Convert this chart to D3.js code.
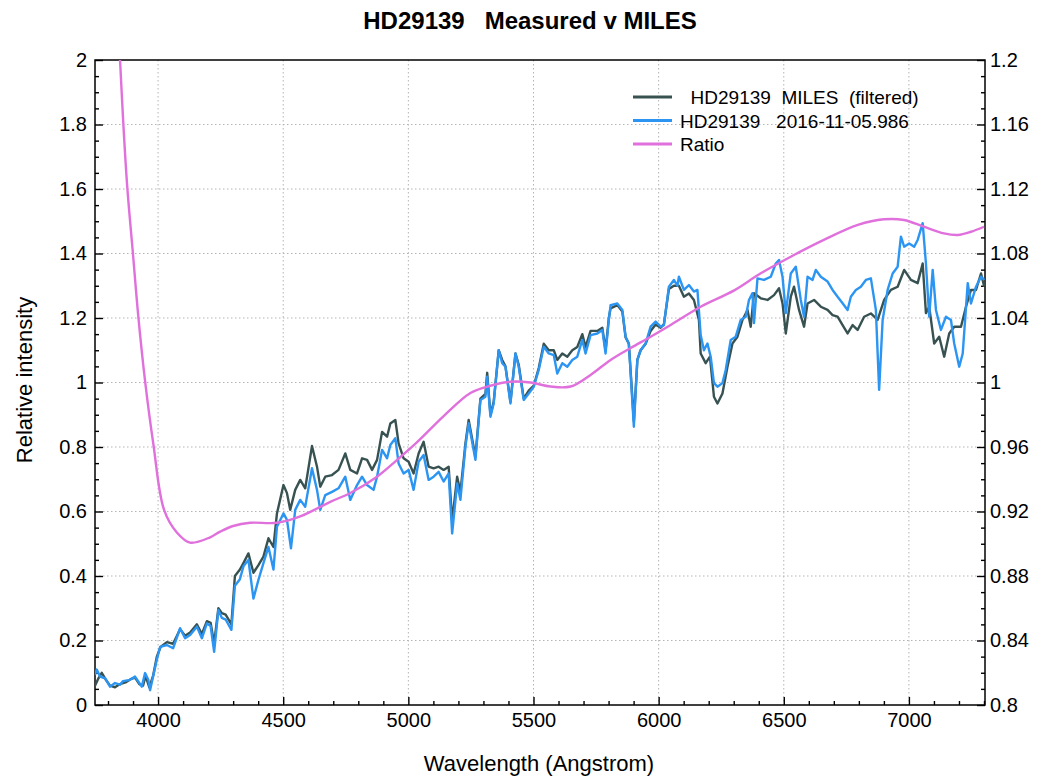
<!DOCTYPE html>
<html lang="en">
<head>
<meta charset="UTF-8">
<title>HD29139 Measured v MILES</title>
<script src="https://d3js.org/d3.v7.min.js"></script>
<style>
  body { margin: 0; background: #fff; }
  text { font-family: "Liberation Sans", Arial, sans-serif; fill: #000; }
  .grid line { stroke: #b4b4b4; stroke-dasharray: 1.5,2.5; }
</style>
</head>
<body>
<div id="chart"></div>
<script>
// tick values
var xTicks = [4000, 4500, 5000, 5500, 6000, 6500, 7000];
var yTicks = [0, 0.2, 0.4, 0.6, 0.8, 1, 1.2, 1.4, 1.6, 1.8, 2];
var ratioTicks = [0.8, 0.84, 0.88, 0.92, 0.96, 1, 1.04, 1.08, 1.12, 1.16, 1.2];

// MILES reference spectrum (filtered)
var milesWl = [3748,3760,3775,3790,3808,3828,3848,3870,3890,3908,3925,3940,3950,3965,3980,3995,4010,4035,4060,4088,
  4108,4128,4155,4175,4195,4210,4224,4241,4255,4270,4293,4307,4327,4341,4361,4381,4401,4421,4441,4461,
  4475,4501,4515,4528,4548,4568,4588,4615,4635,4648,4668,4695,4721,4748,4768,4795,4815,4835,4855,4875,
  4895,4915,4928,4948,4961,4981,5001,5021,5041,5061,5081,5101,5121,5141,5161,5175,5195,5208,5228,5241,
  5268,5288,5308,5315,5328,5341,5361,5375,5388,5408,5428,5441,5461,5481,5501,5521,5541,5561,5581,5595,
  5615,5635,5655,5675,5695,5708,5728,5755,5775,5788,5801,5808,5835,5855,5868,5881,5901,5915,5928,5948,
  5968,5988,6008,6021,6041,6061,6081,6101,6121,6141,6161,6168,6188,6205,6221,6235,6255,6275,6295,6315,
  6335,6355,6368,6381,6408,6435,6461,6481,6495,6508,6528,6541,6561,6581,6595,6621,6648,6675,6695,6715,
  6735,6755,6775,6795,6821,6848,6875,6901,6928,6955,6981,7008,7035,7055,7068,7081,7101,7121,7141,7161,
  7181,7208,7228,7248,7268,7288,7301];
var milesFlux = [0.06,0.08,0.1,0.08,0.06,0.055,0.065,0.07,0.08,0.085,0.065,0.06,0.09,0.055,0.09,0.15,0.18,0.195,0.19,0.235,
  0.215,0.225,0.25,0.22,0.26,0.255,0.19,0.3,0.285,0.28,0.25,0.4,0.42,0.44,0.47,0.41,0.434,0.46,0.517,0.49,
  0.594,0.682,0.657,0.605,0.667,0.698,0.672,0.803,0.739,0.677,0.708,0.713,0.729,0.78,0.729,0.718,0.765,0.76,0.729,0.76,
  0.847,0.832,0.873,0.884,0.811,0.765,0.754,0.718,0.78,0.816,0.739,0.734,0.739,0.729,0.739,0.57,0.708,0.66,0.81,0.884,
  0.77,0.95,0.965,1.03,0.9,0.94,1.1,1.07,1.05,0.94,1.09,1.055,0.95,0.975,0.99,1.045,1.12,1.1,1.1,1.07,
  1.09,1.08,1.1,1.11,1.15,1.11,1.16,1.16,1.17,1.1,1.2,1.23,1.24,1.22,1.14,1.12,0.88,1.07,1.1,1.12,
  1.16,1.18,1.17,1.18,1.29,1.3,1.3,1.266,1.276,1.256,1.194,1.09,1.06,1.08,0.956,0.935,0.966,1.049,1.121,1.142,
  1.194,1.225,1.173,1.277,1.261,1.256,1.271,1.292,1.245,1.152,1.266,1.297,1.225,1.173,1.245,1.256,1.235,1.225,1.209,1.204,
  1.178,1.152,1.178,1.163,1.204,1.214,1.194,1.256,1.287,1.297,1.349,1.318,1.308,1.369,1.215,1.235,1.121,1.142,1.08,1.152,
  1.173,1.173,1.235,1.287,1.287,1.338,1.297];

// measured spectrum 2016-11-05.986
var measWl = [3748,3755,3768,3788,3808,3828,3848,3860,3888,3908,3921,3935,3948,3961,3968,3980,3995,4008,4035,4060,
  4088,4108,4128,4155,4175,4195,4210,4224,4241,4255,4270,4293,4307,4327,4341,4361,4381,4401,4421,4441,
  4461,4475,4501,4515,4531,4548,4568,4588,4615,4635,4648,4668,4695,4721,4748,4768,4795,4815,4835,4861,
  4875,4895,4915,4928,4948,4961,4981,5001,5021,5041,5061,5081,5101,5121,5141,5161,5175,5195,5208,5228,
  5241,5268,5288,5308,5315,5328,5341,5361,5375,5388,5408,5428,5441,5461,5481,5501,5521,5541,5561,5581,
  5595,5615,5635,5655,5675,5695,5708,5728,5755,5775,5788,5801,5808,5835,5855,5868,5881,5901,5915,5928,
  5948,5968,5988,6008,6021,6041,6061,6075,6081,6101,6121,6141,6155,6168,6181,6195,6208,6221,6235,6255,
  6268,6288,6308,6328,6348,6361,6375,6381,6395,6421,6448,6468,6481,6495,6508,6528,6548,6568,6581,6595,
  6615,6628,6648,6675,6695,6715,6735,6755,6768,6788,6808,6828,6848,6868,6881,6895,6915,6935,6955,6968,
  6981,7001,7021,7035,7055,7068,7081,7095,7108,7128,7148,7168,7181,7201,7215,7235,7248,7268,7288,7301];
var measFlux = [0.093,0.11,0.088,0.083,0.057,0.068,0.063,0.074,0.078,0.088,0.073,0.057,0.099,0.078,0.046,0.088,0.14,0.18,0.186,0.176,
  0.238,0.207,0.217,0.243,0.207,0.253,0.245,0.165,0.295,0.27,0.265,0.233,0.37,0.39,0.43,0.45,0.33,0.388,0.44,0.49,
  0.42,0.553,0.594,0.574,0.486,0.605,0.636,0.615,0.734,0.667,0.605,0.651,0.661,0.672,0.708,0.636,0.682,0.708,0.682,0.667,
  0.708,0.791,0.765,0.806,0.827,0.749,0.718,0.729,0.667,0.754,0.775,0.698,0.708,0.723,0.693,0.718,0.532,0.687,0.636,0.801,
  0.874,0.76,0.946,0.956,1.018,0.894,0.935,1.1,1.06,1.049,0.935,1.09,1.049,0.946,0.966,0.987,1.039,1.111,1.09,1.085,
  1.028,1.06,1.049,1.07,1.08,1.132,1.09,1.147,1.152,1.163,1.09,1.194,1.24,1.245,1.225,1.142,1.121,0.863,1.07,1.1,
  1.121,1.173,1.189,1.173,1.178,1.297,1.318,1.3,1.328,1.287,1.302,1.282,1.287,1.147,1.1,1.121,1.08,0.998,0.987,0.998,
  1.039,1.132,1.142,1.194,1.204,1.256,1.277,1.184,1.323,1.318,1.328,1.369,1.38,1.328,1.215,1.338,1.359,1.256,1.204,1.328,
  1.318,1.349,1.328,1.313,1.287,1.266,1.246,1.225,1.266,1.287,1.297,1.318,1.323,1.225,0.977,1.194,1.287,1.338,1.359,1.452,
  1.421,1.431,1.421,1.442,1.494,1.369,1.204,1.349,1.225,1.163,1.204,1.194,1.121,1.049,1.09,1.308,1.245,1.297,1.328,1.318];

// ratio (right axis)
var ratioWl = [3790,3820,3848,3861,3877,3899,3921,3948,3981,4024,4075,4128,4208,4248,4300,4368,4475,4568,4688,4768,
  4875,4955,5035,5140,5248,5328,5408,5488,5568,5648,5728,5808,5888,5968,6048,6168,6300,6408,6528,6660,
  6796,6900,6980,7060,7140,7196,7248,7300];
var ratioVal = [1.33,1.27,1.2,1.161,1.121,1.081,1.041,1.001,0.962,0.921,0.907,0.9007,0.904,0.9075,0.911,0.913,0.913,0.917,0.926,0.9315,
  0.9416,0.952,0.963,0.979,0.9935,0.998,1.0005,1.0,0.9975,0.9975,1.0047,1.014,1.0214,1.0284,1.0357,1.047,1.057,1.0677,1.078,1.0884,
  1.0977,1.1012,1.1008,1.0966,1.0925,1.0915,1.0935,1.0966];

var W = 1037, H = 778;
var plotL = 95, plotR = 985, plotT = 60, plotB = 705;

var svg = d3.select("#chart").append("svg")
    .attr("width", W)
    .attr("height", H);

var x = d3.scaleLinear().domain([3748, 7304]).range([plotL, plotR]);
var y = d3.scaleLinear().domain([0, 2]).range([plotB, plotT]);
var yR = d3.scaleLinear().domain([0.8, 1.2]).range([plotB, plotT]);

svg.append("clipPath").attr("id", "plot-clip")
  .append("rect")
    .attr("x", plotL).attr("y", plotT)
    .attr("width", plotR - plotL).attr("height", plotB - plotT);

// dotted grid
var grid = svg.append("g").attr("class", "grid");
grid.selectAll(".gx").data(xTicks).enter().append("line")
    .attr("x1", function(d) { return x(d); }).attr("x2", function(d) { return x(d); })
    .attr("y1", plotT).attr("y2", plotB);
grid.selectAll(".gy").data(yTicks.slice(1, -1)).enter().append("line")
    .attr("x1", plotL).attr("x2", plotR)
    .attr("y1", function(d) { return y(d); }).attr("y2", function(d) { return y(d); });

// axes, ticks pointing into the plot
var fmt = function(d) { return String(d); };

var xMinor = d3.range(3800, 7301, 100).filter(function(d) { return d % 500 !== 0; });
var yMinor = d3.range(0, 2.001, 0.05).filter(function(d) { return Math.abs(d * 5 - Math.round(d * 5)) > 1e-6; });
var rMinor = d3.range(0.8, 1.2001, 0.01).filter(function(d) { return Math.abs(d * 25 - Math.round(d * 25)) > 1e-6; });

function styleAxis(g) {
  g.select(".domain").remove();
  g.selectAll("line").attr("stroke", "#000").attr("stroke-width", 1.4);
  g.selectAll("text").attr("font-size", 20).attr("fill", "#000")
    .attr("font-family", "'Liberation Sans', Arial, sans-serif");
}

svg.append("g").attr("transform", "translate(0," + plotB + ")")
  .call(d3.axisBottom(x).tickValues(xTicks).tickFormat(fmt).tickSizeInner(-8).tickSizeOuter(0).tickPadding(8))
  .call(styleAxis);
svg.append("g").attr("transform", "translate(0," + plotB + ")")
  .call(d3.axisBottom(x).tickValues(xMinor).tickFormat("").tickSizeInner(-4).tickSizeOuter(0))
  .call(styleAxis);

svg.append("g").attr("transform", "translate(" + plotL + ",0)")
  .call(d3.axisLeft(y).tickValues(yTicks).tickFormat(fmt).tickSizeInner(-8).tickSizeOuter(0).tickPadding(8))
  .call(styleAxis);
svg.append("g").attr("transform", "translate(" + plotL + ",0)")
  .call(d3.axisLeft(y).tickValues(yMinor).tickFormat("").tickSizeInner(-4).tickSizeOuter(0))
  .call(styleAxis);

svg.append("g").attr("transform", "translate(" + plotR + ",0)")
  .call(d3.axisRight(yR).tickValues(ratioTicks).tickFormat(fmt).tickSizeInner(-8).tickSizeOuter(0).tickPadding(5))
  .call(styleAxis);
svg.append("g").attr("transform", "translate(" + plotR + ",0)")
  .call(d3.axisRight(yR).tickValues(rMinor).tickFormat("").tickSizeInner(-4).tickSizeOuter(0))
  .call(styleAxis);

// frame
svg.append("rect")
    .attr("x", plotL).attr("y", plotT)
    .attr("width", plotR - plotL).attr("height", plotB - plotT)
    .attr("fill", "none").attr("stroke", "#000").attr("stroke-width", 1.5);

// series
var lines = svg.append("g").attr("clip-path", "url(#plot-clip)");

var specLine = d3.line()
    .x(function(d) { return x(d[0]); })
    .y(function(d) { return y(d[1]); });
var ratioLine = d3.line()
    .x(function(d) { return x(d[0]); })
    .y(function(d) { return yR(d[1]); })
    .curve(d3.curveCatmullRom.alpha(0.5));

lines.append("path")
    .datum(d3.zip(milesWl, milesFlux))
    .attr("d", specLine)
    .attr("fill", "none").attr("stroke", "#385252").attr("stroke-width", 2.4)
    .attr("stroke-linejoin", "round");
lines.append("path")
    .datum(d3.zip(measWl, measFlux))
    .attr("d", specLine)
    .attr("fill", "none").attr("stroke", "#2c95f2").attr("stroke-width", 2.4)
    .attr("stroke-linejoin", "round");
lines.append("path")
    .datum(d3.zip(ratioWl, ratioVal))
    .attr("d", ratioLine)
    .attr("fill", "none").attr("stroke", "#e070dc").attr("stroke-width", 2.4);

// legend
var legendItems = [
  { label: "  HD29139  MILES  (filtered)", color: "#385252" },
  { label: "HD29139   2016-11-05.986", color: "#2c95f2" },
  { label: "Ratio", color: "#e070dc" }
];
var legend = svg.append("g").attr("transform", "translate(633,97)");
legend.selectAll("line").data(legendItems).enter().append("line")
    .attr("x1", 0).attr("x2", 39)
    .attr("y1", function(d, i) { return i * 23.5; }).attr("y2", function(d, i) { return i * 23.5; })
    .attr("stroke", function(d) { return d.color; }).attr("stroke-width", 3);
legend.selectAll("text").data(legendItems).enter().append("text")
    .attr("x", 47).attr("y", function(d, i) { return i * 23.5 + 7; })
    .attr("font-size", 19)
    .style("white-space", "pre")
    .text(function(d) { return d.label; });

// titles
svg.append("text")
    .attr("x", 530).attr("y", 29)
    .attr("text-anchor", "middle")
    .attr("font-size", 24).attr("font-weight", "bold")
    .style("white-space", "pre")
    .text("HD29139   Measured v MILES");

svg.append("text")
    .attr("x", 539).attr("y", 771)
    .attr("text-anchor", "middle")
    .attr("font-size", 22)
    .text("Wavelength (Angstrom)");

svg.append("text")
    .attr("transform", "translate(32,380) rotate(-90)")
    .attr("text-anchor", "middle")
    .attr("font-size", 22)
    .text("Relative intensity");
</script>
</body>
</html>
